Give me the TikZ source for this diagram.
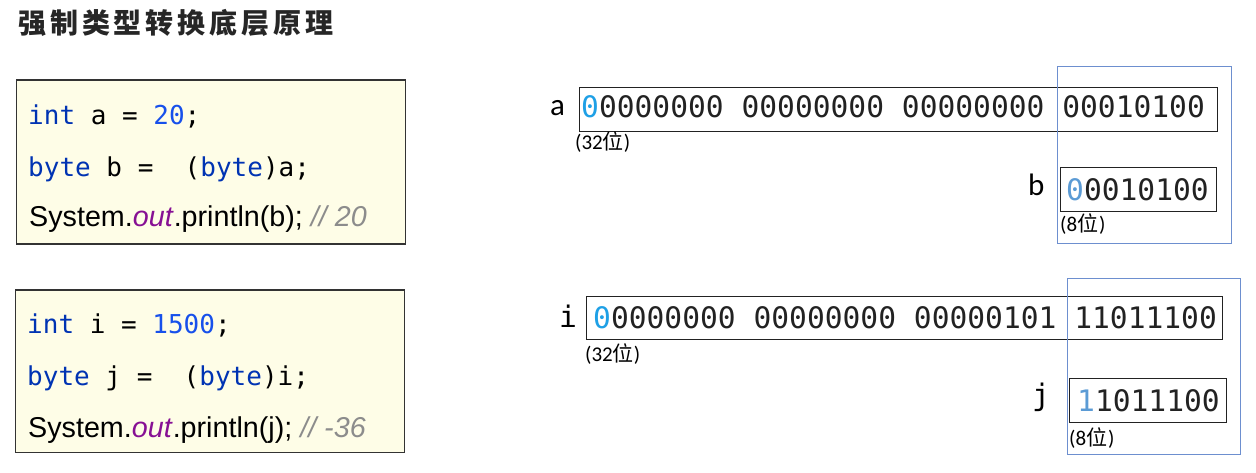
\documentclass[tikz,border=0pt]{standalone}
\usepackage{fontspec}
\setmainfont{Liberation Sans}
\setmonofont{DejaVu Sans Mono}
\newfontfamily\cjk{Noto Sans CJK SC}
\newfontfamily\titlefont[LetterSpace=14]{Noto Sans CJK SC}
\newfontfamily\cali{Carlito}
\usepackage{xcolor}
\usepackage{tikz}
\definecolor{codebg}{HTML}{FEFDE7}
\definecolor{codeframe}{HTML}{333333}
\definecolor{boxline}{HTML}{222222}
\definecolor{frameblue}{HTML}{6D8FCF}
\definecolor{kw}{HTML}{0033B3}
\definecolor{num}{HTML}{1750EB}
\definecolor{purp}{HTML}{871094}
\definecolor{cmt}{HTML}{8C8C8C}
\definecolor{cyanbit}{HTML}{1EA0E6}
\definecolor{lowbit}{HTML}{5B9BD5}
\definecolor{bitblack}{HTML}{222222}
\newcommand\codefont{\ttfamily\fontsize{26}{30}\selectfont}
\newcommand\printfont{\fontsize{28.7}{32}\selectfont}
\newcommand\bitfont{\ttfamily\fontsize{29.6}{34}\selectfont}
\newcommand\varfont{\cali\fontsize{31}{36}\selectfont}
\newcommand\countfont{\cali\fontsize{21}{24}\selectfont}
\newcommand\headfont{\titlefont\bfseries\fontsize{28}{32}\selectfont}
\tikzstyle{codebox}=[draw=codeframe, line width=1.2pt, fill=codebg, rectangle, anchor=north west]
\tikzstyle{bitbox}=[draw=boxline, line width=1.2pt, rectangle, anchor=north west]
\tikzstyle{lowbyte}=[draw=frameblue, line width=1pt, rectangle, anchor=north west]
\tikzstyle{code}=[anchor=base west, inner sep=0pt, font=\codefont]
\tikzstyle{printline}=[anchor=base west, inner sep=0pt, font=\printfont]
\tikzstyle{bits}=[anchor=base west, inner sep=0pt, font=\bitfont, text=bitblack]
\tikzstyle{var}=[anchor=base west, inner sep=0pt, font=\varfont]
\tikzstyle{bitcount}=[anchor=base west, inner sep=0pt, font=\countfont]
\tikzstyle{heading}=[anchor=base west, inner sep=0pt, font=\headfont, text=black!85]

\begin{document}
\begin{tikzpicture}[x=1pt, y=-1pt]
	\useasboundingbox[fill=white] (0,0) rectangle (1256,472);
	\node[heading] (T) at (18,33.5) {强制类型转换底层原理};
	\node[codebox, minimum width=389pt, minimum height=164pt] (CA) at (16,79.3) {};
	\node[code] (A1) at (28,124.3) {\textcolor{kw}{int} a = \textcolor{num}{20};};
	\node[code] (A2) at (28,176.7) {\textcolor{kw}{byte} b =\ \ (\textcolor{kw}{byte})a;};
	\node[printline] (A3) at (29,226.7) {System.\textcolor{purp}{\textit{out}}.println(b); \textcolor{cmt}{\textit{// 20}}};
	\node[codebox, minimum width=389pt, minimum height=162.7pt] (CI) at (15,289.3) {};
	\node[code] (I1) at (27,333.7) {\textcolor{kw}{int} i = \textcolor{num}{1500};};
	\node[code] (I2) at (27,385) {\textcolor{kw}{byte} j =\ \ (\textcolor{kw}{byte})i;};
	\node[printline] (I3) at (28,437) {System.\textcolor{purp}{\textit{out}}.println(j); \textcolor{cmt}{\textit{// -36}}};
	\node[bitbox, minimum width=637.7pt, minimum height=44pt] (BA) at (579,86.7) {};
	\node[bits] (DA) at (581,117.3) {\textcolor{cyanbit}{0}0000000 00000000 00000000 00010100};
	\node[var] (LA) at (550,115) {a};
	\node[bitcount] (NA) at (575,149) {(32{\cjk 位})};
	\node[bitbox, minimum width=155.7pt, minimum height=44pt] (BB) at (1060,166.7) {};
	\node[bits] (DB) at (1066,200) {\textcolor{lowbit}{0}0010100};
	\node[var] (LB) at (1028,195) {b};
	\node[bitcount] (NB) at (1060,231.5) {(8{\cjk 位}\kern1pt)};
	\node[lowbyte, minimum width=174pt, minimum height=176.7pt] (FA) at (1056.7,66) {};
	\node[bitbox, minimum width=636pt, minimum height=43.3pt] (BI) at (586,295.7) {};
	\node[bits] (DI) at (593,328) {\textcolor{cyanbit}{0}0000000 00000000 00000101 11011100};
	\node[var, font=\bitfont] (LI) at (559,327) {i};
	\node[bitcount] (NI) at (585,361.5) {(32{\cjk 位})};
	\node[bitbox, minimum width=156.7pt, minimum height=44pt] (BJ) at (1069,378) {};
	\node[bits] (DJ) at (1077,411.7) {\textcolor{lowbit}{1}1011100};
	\node[var, font=\bitfont] (LJ) at (1032,405) {j};
	\node[bitcount] (NJ) at (1069,445) {(8{\cjk 位}\kern1pt)};
	\node[lowbyte, minimum width=173.3pt, minimum height=176pt] (FI) at (1066.7,278) {};
\end{tikzpicture}
\end{document}
